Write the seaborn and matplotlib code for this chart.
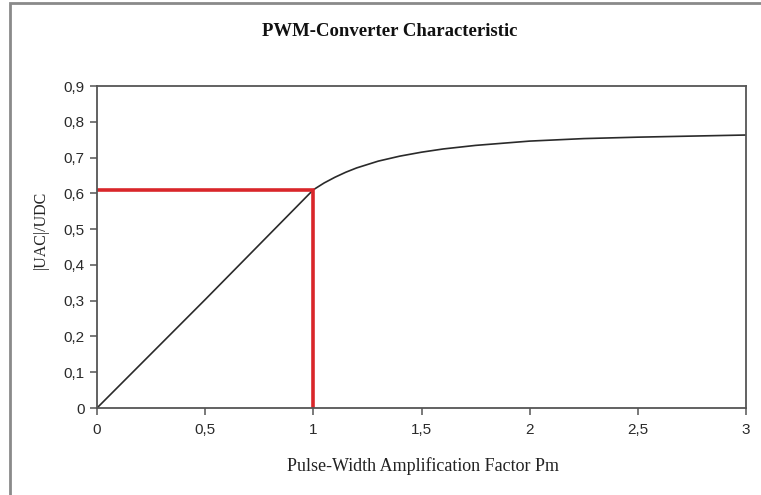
import matplotlib
matplotlib.use("Agg")
import matplotlib.pyplot as plt
import seaborn as sns
import pandas as pd
from matplotlib.patches import Rectangle

# Data
pm = [0.0, 0.5, 1.0, 1.05, 1.1, 1.15, 1.2, 1.3, 1.4, 1.5, 1.6, 1.75, 2.0, 2.25, 2.5, 2.75, 3.0]
ratio = [0.0, 0.303, 0.61, 0.629, 0.645, 0.659, 0.671, 0.690, 0.704, 0.715, 0.724, 0.734,
         0.746, 0.753, 0.757, 0.760, 0.763]

marker_x = [0.0, 1.0, 1.0]
marker_y = [0.61, 0.61, 0.0]

x_ticks = [0, 0.5, 1, 1.5, 2, 2.5, 3]
x_tick_labels = ["0", "0,5", "1", "1,5", "2", "2,5", "3"]
y_ticks = [0, 0.1, 0.2, 0.3, 0.4, 0.5, 0.6, 0.7, 0.8, 0.9]
y_tick_labels = ["0", "0,1", "0,2", "0,3", "0,4", "0,5", "0,6", "0,7", "0,8", "0,9"]

title = "PWM-Converter Characteristic"
x_label = "Pulse-Width Amplification Factor Pm"
y_label = "|UAC|/UDC"

sns.set_style("white")
plt.rcParams["font.family"] = ["Liberation Sans", "DejaVu Sans"]

fig = plt.figure(figsize=(7.61, 4.95), dpi=100)
W, H = 761, 495
ax = fig.add_axes([97 / W, 1 - 408 / H, (746 - 97) / W, (408 - 86) / H])

# outer frame (left and top edges visible)
fig.patches.append(Rectangle((10 / W, -0.05), 1.2, 1 - 3 / H + 0.05, transform=fig.transFigure,
                             fill=False, edgecolor="#8a8a8a", linewidth=2.0))

df = pd.DataFrame({"pm": pm, "ratio": ratio})
sns.lineplot(data=df, x="pm", y="ratio", ax=ax, color="#2a2a2a", linewidth=1.2,
             sort=False, estimator=None)
dm = pd.DataFrame({"x": marker_x, "y": marker_y})
sns.lineplot(data=dm, x="x", y="y", ax=ax, color="#d9262a", linewidth=2.6, sort=False,
             estimator=None, solid_joinstyle="miter")

ax.set_xlim(0, 3)
ax.set_ylim(0, 0.9)
ax.set_xticks(x_ticks)
ax.set_xticklabels(x_tick_labels)
ax.set_yticks(y_ticks)
ax.set_yticklabels(y_tick_labels)

for s in ax.spines.values():
    s.set_color("#555555")
    s.set_linewidth(1.3)

ax.tick_params(axis="both", direction="out", length=5, width=1.1, color="#555555",
               labelsize=11, labelcolor="#2a2a2a", bottom=True, left=True)
ax.tick_params(axis="x", pad=6)
ax.tick_params(axis="y", pad=4)

ax.set_xlabel(x_label, family=["Liberation Serif", "DejaVu Serif"], fontsize=13,
              color="#222222")
ax.set_ylabel(y_label, family=["Liberation Serif", "DejaVu Serif"], fontsize=11.5,
              color="#222222")
# place labels (axes coords)
ax.xaxis.set_label_coords((423 - 97) / (746 - 97), (408 - 466) / (408 - 86))
ax.xaxis.label.set_va("center")
ax.yaxis.set_label_coords((41 - 97) / (746 - 97), (408 - 230) / (408 - 86))
ax.yaxis.label.set_va("center")

fig.text(390 / W, 1 - 31 / H, title, ha="center", va="center",
         family=["Liberation Serif", "DejaVu Serif"], fontsize=13.5, fontweight="bold",
         color="#111111")

fig.savefig("out.png", dpi=100)
